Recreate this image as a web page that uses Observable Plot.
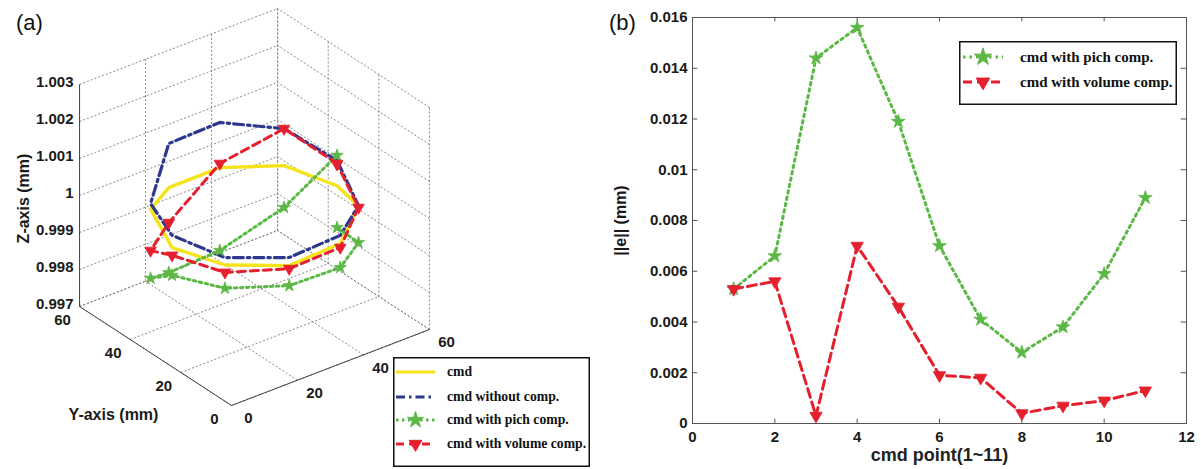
<!DOCTYPE html>
<html><head><meta charset="utf-8">
<script src="https://cdn.jsdelivr.net/npm/d3@7"></script>
<script src="https://cdn.jsdelivr.net/npm/@observablehq/plot@0.6"></script>
<style>
html,body{margin:0;padding:0;background:#fff}
#wrap{position:relative;width:1201px;height:469px;overflow:hidden;font-family:"Liberation Sans",Arial,sans-serif}
.abs{position:absolute}
.tag{position:absolute;font-size:22px;color:#111;line-height:1;font-family:"Liberation Sans",Arial,sans-serif}
</style></head><body>
<div id="wrap">
  <div id="pa" class="abs" style="left:0;top:0"></div>
  <div id="pb" class="abs" style="left:600px;top:0"></div>
  <div class="tag" style="left:16px;top:12px">(a)</div>
  <div class="tag" style="left:609px;top:12px">(b)</div>
</div>
<script>
// ---------------- data: panel (a), 3-D command circle and measured paths ----------------
const seriesNames = ["cmd", "cmd without comp.", "cmd with pich comp.", "cmd with volume comp."];
const cmdX = [55, 50.23, 37.73, 22.27, 9.77, 5, 9.77, 22.27, 37.73, 50.23, 55];
const cmdY = [30, 44.69, 53.78, 53.78, 44.69, 30, 15.31, 6.22, 6.22, 15.31, 30];
const zCmd    = [0.99972, 0.99977, 0.99974, 0.99973, 0.99998, 0.99976, 0.99978, 0.99974, 0.99981, 0.99999, 0.99972];
const zNoComp = [1.00040, 1.00077, 1.00096, 1.00092, 1.00013, 1.00009, 0.99998, 0.99996, 1.00003, 1.00000, 1.00040];
const zPich   = [1.00054, 0.99864, 0.99750, 0.99743, 0.99811, 0.99901, 0.99915, 0.99920, 0.99916, 0.99900, 0.99859];
const zVol    = [1.00032, 1.00077, 0.99985, 0.99878, 0.99886, 0.99955, 0.99958, 0.99966, 0.99970, 0.99995, 1.00030];
const xTicksA = [0, 20, 40, 60];
const yTicksA = [0, 20, 40, 60];
const zTicksA = [0.997, 0.998, 0.999, 1, 1.001, 1.002, 1.003];

// ---------------- data: panel (b) ----------------
const cmdPoint = [1, 2, 3, 4, 5, 6, 7, 8, 9, 10, 11];
const errPich = [0.0053, 0.0066, 0.0144, 0.0156, 0.0119, 0.0070, 0.0041, 0.0028, 0.0038, 0.0059, 0.0089];
const errVol  = [0.0053, 0.0056, 0.0003, 0.0070, 0.0046, 0.0019, 0.0018, 0.0004, 0.0007, 0.0009, 0.0013];
const xTicksB = [0, 2, 4, 6, 8, 10, 12];
const yTicksB = [0, 0.002, 0.004, 0.006, 0.008, 0.01, 0.012, 0.014, 0.016];

// ---------------- styles ----------------
const YELLOW = "#f6e31c", BLUE = "#2d378c", GREEN = "#5cb846", RED = "#e5202e";
const FONT = '"Liberation Sans", Arial, sans-serif';
const SERIF = '"Liberation Serif", "Times New Roman", serif';
const triDown = {
  draw(ctx, size) {
    const a = Math.sqrt(size * 4 / Math.sqrt(3)), h = a * Math.sqrt(3) / 2;
    ctx.moveTo(0, 2 * h / 3); ctx.lineTo(a / 2, -h / 3); ctx.lineTo(-a / 2, -h / 3); ctx.closePath();
  }
};

// ---------------- 3-D view projection (MATLAB-like az/el) ----------------
const AZ = 37.5 * Math.PI / 180, EL = 30 * Math.PI / 180;
const ZMIN = 0.997, ZMAX = 1.003, ZSCALE = 8894; // vertical units per mm of Z
const P = (X, Y, Z) => [Math.cos(AZ) * X - Math.sin(AZ) * Y,
                        Math.sin(EL) * (Math.sin(AZ) * X + Math.cos(AZ) * Y) + ZSCALE * (Z - ZMIN)];
const K = 4.16, OX = 231, OY = 405, WA = 600, HA = 469;

function seriesRows(zs) {
  return zs.map((z, i) => { const [u, v] = P(cmdX[i], cmdY[i], z); return {u, v, k: i + 1}; });
}
const sCmd = seriesRows(zCmd), sNo = seriesRows(zNoComp), sPich = seriesRows(zPich), sVol = seriesRows(zVol);

const segs = [];
for (const X of xTicksA) { segs.push([[X, 0, ZMIN], [X, 60, ZMIN]]); segs.push([[X, 60, ZMIN], [X, 60, ZMAX]]); }
for (const Y of yTicksA) { segs.push([[0, Y, ZMIN], [60, Y, ZMIN]]); segs.push([[60, Y, ZMIN], [60, Y, ZMAX]]); }
for (const Z of zTicksA) { segs.push([[0, 60, Z], [60, 60, Z]]); segs.push([[60, 0, Z], [60, 60, Z]]); }
const axesSegs = [
  [[0, 60, ZMIN], [0, 0, ZMIN]],
  [[0, 0, ZMIN], [60, 0, ZMIN]],
  [[0, 60, ZMIN], [0, 60, ZMAX]]
];
const lk = (s) => ({
  x1: d => P(...d[0])[0], y1: d => P(...d[0])[1],
  x2: d => P(...d[1])[0], y2: d => P(...d[1])[1], ...s
});

const plotA = Plot.plot({
  width: WA, height: HA, margin: 0,
  x: {type: "linear", domain: [-OX / K, (WA - OX) / K], range: [0, WA], axis: null},
  y: {type: "linear", domain: [(OY - HA) / K, OY / K], range: [HA, 0], axis: null},
  style: {fontFamily: FONT, color: "#1a1a1a", background: "transparent", overflow: "visible"},
  marks: [
    Plot.link(segs, lk({stroke: "#7a7a7a", strokeWidth: 0.9, strokeDasharray: "2,2"})),
    Plot.link(axesSegs, lk({stroke: "#444", strokeWidth: 1})),
    Plot.text(zTicksA, {x: z => P(0, 60, z)[0], y: z => P(0, 60, z)[1], text: z => String(+z.toFixed(3)),
      textAnchor: "end", dx: -6, dy: -2.5, fontSize: 15, fontWeight: "bold"}),
    Plot.text(yTicksA, {x: y => P(0, y, ZMIN)[0], y: y => P(0, y, ZMIN)[1], text: y => String(y),
      dx: -17, dy: 14, fontSize: 15, fontWeight: "bold"}),
    Plot.text(xTicksA, {x: x => P(x, 0, ZMIN)[0], y: x => P(x, 0, ZMIN)[1], text: x => String(x),
      dx: 17, dy: 13, fontSize: 15, fontWeight: "bold"}),
    Plot.text(["Z-axis (mm)"], {frameAnchor: "top-left", textAnchor: "middle", dx: 17, dy: 198, rotate: -90, fontSize: 16, fontWeight: "bold"}),
    Plot.text(["Y-axis (mm)"], {frameAnchor: "top-left", textAnchor: "middle", dx: 113, dy: 408, fontSize: 16, fontWeight: "bold"}),
    Plot.line(sCmd, {x: "u", y: "v", stroke: YELLOW, strokeWidth: 3.4}),
    Plot.line(sNo, {x: "u", y: "v", stroke: BLUE, strokeWidth: 3.2, strokeDasharray: "10,4,2.5,4"}),
    Plot.line(sPich, {x: "u", y: "v", stroke: GREEN, strokeWidth: 3, strokeDasharray: "2.5,3.5"}),
    Plot.dot(sPich, {x: "u", y: "v", symbol: "star", r: 3.9, fill: GREEN, stroke: GREEN, strokeWidth: 0.8}),
    Plot.line(sVol, {x: "u", y: "v", stroke: RED, strokeWidth: 3, strokeDasharray: "8,5"}),
    Plot.dot(sVol, {x: "u", y: "v", symbol: triDown, r: 4.3, fill: RED, stroke: RED, strokeWidth: 0.8})
  ]
});
document.getElementById("pa").appendChild(plotA);

// ---------------- panel (b) ----------------
const dataB = cmdPoint.map((p, i) => ({p, pich: errPich[i], vol: errVol[i]}));
const plotB = Plot.plot({
  width: 601, height: 469, marginLeft: 92, marginRight: 15, marginTop: 17, marginBottom: 46,
  x: {domain: [0, 12]},
  y: {domain: [0, 0.016]},
  style: {fontFamily: FONT, color: "#1a1a1a", background: "transparent", overflow: "visible"},
  marks: [
    Plot.frame({stroke: "#555", strokeWidth: 1}),
    Plot.ruleY(yTicksB, {x1: 0, x2: 0.13, stroke: "#555"}),
    Plot.ruleY(yTicksB, {x1: 11.87, x2: 12, stroke: "#555"}),
    Plot.ruleX(xTicksB, {y1: 0, y2: 0.00017, stroke: "#555"}),
    Plot.ruleX(xTicksB, {y1: 0.01583, y2: 0.016, stroke: "#555"}),
    Plot.axisX({ticks: xTicksB, tickSize: 0, tickPadding: 8, fontSize: 15, fontWeight: "bold", label: null, tickFormat: d => String(d)}),
    Plot.axisY({ticks: yTicksB, tickSize: 0, tickPadding: 5, fontSize: 15, fontWeight: "bold", label: null, tickFormat: d => String(+d.toFixed(3))}),
    Plot.line(dataB, {x: "p", y: "pich", stroke: GREEN, strokeWidth: 3, strokeDasharray: "2.5,4"}),
    Plot.dot(dataB, {x: "p", y: "pich", symbol: "star", r: 4.3, fill: GREEN, stroke: GREEN, strokeWidth: 0.8}),
    Plot.line(dataB, {x: "p", y: "vol", stroke: RED, strokeWidth: 3, strokeDasharray: "9,5"}),
    Plot.dot(dataB, {x: "p", y: "vol", symbol: triDown, r: 4.6, fill: RED, stroke: RED, strokeWidth: 0.8}),
    Plot.text(["cmd point(1~11)"], {frameAnchor: "bottom", textAnchor: "middle", dy: 37, fontSize: 18, fontWeight: "bold", fill: "#222"}),
    Plot.text(["||e|| (mm)"], {frameAnchor: "left", textAnchor: "middle", dx: -72, rotate: -90, fontSize: 16, fontWeight: "bold"})
  ]
});
document.getElementById("pb").appendChild(plotB);

// ---------------- legends ----------------
function legend(left, top, width, height, rows, opt) {
  const svg = d3.select("#wrap").append("svg")
    .attr("width", width).attr("height", height)
    .style("position", "absolute").style("left", left + "px").style("top", top + "px");
  svg.append("rect").attr("x", 0.75).attr("y", 0.75).attr("width", width - 1.5).attr("height", height - 1.5)
    .attr("fill", "#fff").attr("stroke", "#111").attr("stroke-width", 1.5);
  rows.forEach(r => {
    svg.append("line").attr("x1", opt.s0).attr("x2", opt.s1).attr("y1", r.y).attr("y2", r.y)
      .attr("stroke", r.color).attr("stroke-width", 3).attr("stroke-dasharray", r.dash || null);
    if (r.symbol) svg.append("path").attr("d", d3.symbol(r.symbol, r.size)())
      .attr("transform", `translate(${(opt.s0 + opt.s1) / 2},${r.y})`).attr("fill", r.color).attr("stroke", r.color);
    svg.append("text").attr("x", opt.tx).attr("y", r.y).attr("dy", "0.32em").text(r.label)
      .attr("font-family", SERIF).attr("font-weight", "bold").attr("font-size", opt.fs).attr("fill", "#111");
  });
}
legend(393, 357, 197, 110, [
  {y: 15, color: YELLOW, label: seriesNames[0]},
  {y: 40, color: BLUE, dash: "9,4,2.5,4", label: seriesNames[1]},
  {y: 63, color: GREEN, dash: "2.5,3.5", symbol: d3.symbolStar, size: 80, label: seriesNames[2]},
  {y: 87, color: RED, dash: "8,5", symbol: triDown, size: 70, label: seriesNames[3]}
], {s0: 3, s1: 42, tx: 54, fs: 13.7});
legend(959, 41, 218, 64, [
  {y: 16, color: GREEN, dash: "2.5,4", symbol: d3.symbolStar, size: 95, label: seriesNames[2]},
  {y: 41, color: RED, dash: "9,5", symbol: triDown, size: 80, label: seriesNames[3]}
], {s0: 4, s1: 44, tx: 61, fs: 15});
</script>
</body></html>
